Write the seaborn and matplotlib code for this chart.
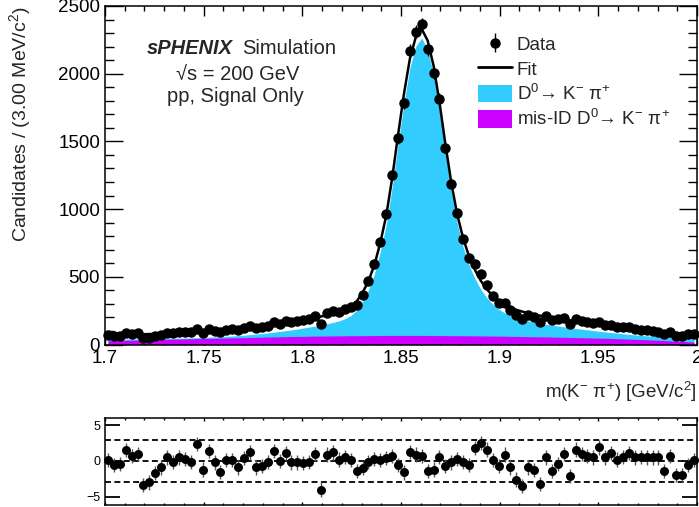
import numpy as np
import matplotlib
matplotlib.use("Agg")
import matplotlib.pyplot as plt
import seaborn as sns
from matplotlib.patches import Patch
from matplotlib.lines import Line2D
from matplotlib.ticker import MultipleLocator, FixedLocator

# 100 bins of 3 MeV between 1.7 and 2.0 GeV/c^2
BIN_LO = 1.7
BIN_W = 0.003
N_BINS = 100

# candidates per bin
counts = [68, 64, 66, 83, 79, 83, 46, 51, 63, 73,
          88, 84, 92, 92, 90, 117, 85, 113, 100, 90,
          110, 113, 106, 124, 138, 120, 127, 140, 164, 153,
          174, 165, 172, 178, 189, 212, 149, 229, 244, 242,
          264, 280, 294, 362, 466, 593, 754, 962, 1250, 1523,
          1781, 2170, 2310, 2364, 2181, 2007, 1816, 1453, 1187, 969,
          782, 636, 592, 524, 439, 361, 310, 310, 258, 215,
          188, 218, 203, 166, 212, 179, 185, 198, 149, 190,
          176, 166, 157, 168, 145, 145, 130, 128, 127, 114,
          110, 104, 100, 96, 75, 92, 66, 65, 77, 81]

# total fit at the bin centres
fit_total = [68, 69, 70, 71, 73, 74, 76, 77, 79, 81,
             83, 85, 87, 89, 91, 94, 96, 99, 102, 105,
             108, 112, 116, 120, 125, 130, 135, 141, 147, 153,
             160, 167, 174, 182, 190, 198, 207, 216, 226, 238,
             254, 278, 318, 382, 468, 586, 750, 950, 1225, 1545,
             1850, 2110, 2270, 2330, 2245, 2060, 1790, 1480, 1195, 960,
             785, 650, 550, 470, 408, 360, 323, 295, 273, 256,
             243, 232, 222, 213, 205, 198, 191, 184, 177, 170,
             163, 157, 151, 145, 139, 133, 127, 121, 115, 109,
             104, 99, 95, 91, 88, 86, 84, 83, 82, 81]

# mis-ID component of the fit
fit_misid = [28, 29, 30, 31, 32, 33, 34, 35, 36, 37,
             38, 39, 40, 41, 42, 43, 44, 45, 46, 47,
             48, 49, 50, 51, 52, 53, 54, 55, 56, 57,
             58, 59, 60, 60, 61, 62, 62, 63, 63, 64,
             64, 65, 65, 65, 66, 66, 66, 67, 67, 67,
             67, 67, 67, 67, 67, 66, 66, 66, 65, 65,
             65, 64, 64, 63, 63, 62, 62, 61, 60, 60,
             59, 58, 57, 57, 56, 55, 54, 53, 52, 51,
             50, 49, 48, 47, 46, 45, 43, 42, 40, 38,
             37, 35, 33, 31, 29, 27, 25, 23, 20, 18]

# pulls shown in the lower panel
pulls = [0.1, -0.6, -0.4, 1.5, 0.7, 1.0, -3.4, -3.0, -1.7, -0.9,
         0.5, -0.1, 0.5, 0.3, -0.1, 2.4, -1.2, 1.4, -0.2, -1.5,
         0.1, 0.1, -0.9, 0.4, 1.2, -0.9, -0.7, -0.1, 1.4, 0.0,
         1.1, -0.2, -0.2, -0.3, -0.1, 1.0, -4.0, 0.9, 1.2, 0.2,
         0.6, 0.1, -1.4, -1.0, -0.1, 0.3, 0.1, 0.4, 0.7, -0.6,
         -1.6, 1.3, 0.9, 0.7, -1.4, -1.2, 0.6, -0.7, -0.2, 0.3,
         -0.1, -0.6, 1.8, 2.5, 1.6, 0.1, -0.7, 0.9, -0.9, -2.6,
         -3.5, -0.9, -1.3, -3.2, 0.5, -1.4, -0.4, 1.0, -2.1, 1.6,
         1.0, 0.7, 0.5, 1.9, 0.5, 1.1, 0.2, 0.6, 1.1, 0.5,
         0.6, 0.5, 0.5, 0.5, -1.4, 0.7, -2.0, -2.0, -0.6, 0.1]

xtick_vals = [1.7, 1.75, 1.8, 1.85, 1.9, 1.95, 2.0]
xtick_labels = ["1.7", "1.75", "1.8", "1.85", "1.9", "1.95", "2"]
ytick_vals = [0, 500, 1000, 1500, 2000, 2500]
pull_ticks = [-5, 0, 5]
pull_tick_labels = ["\u22125", "0", "5"]

CYAN = "#33CCFF"
MAGENTA = "#CC00FF"

mass = BIN_LO + BIN_W * (np.arange(N_BINS) + 0.5)
counts = np.array(counts, dtype=float)
fit_total = np.array(fit_total, dtype=float)
fit_misid = np.array(fit_misid, dtype=float)
fit_signal = fit_total - fit_misid

sns.set_theme(style="ticks", rc={"axes.edgecolor": "black", "xtick.color": "black",
                                 "ytick.color": "black", "axes.linewidth": 1.1})
plt.rcParams["font.family"] = ["Liberation Sans", "DejaVu Sans"]
plt.rcParams["mathtext.fontset"] = "custom"
plt.rcParams["mathtext.rm"] = "Liberation Sans"
plt.rcParams["mathtext.it"] = "Liberation Sans:italic"
plt.rcParams["mathtext.bf"] = "Liberation Sans:bold"

fig = plt.figure(figsize=(6.99, 5.07), dpi=100)
ax = fig.add_axes([0.1502, 0.3205, 0.8469, 0.6677])
ax2 = fig.add_axes([0.1502, 0.0039, 0.8469, 0.1716])

# --- main panel
ax.fill_between(mass, 0, fit_signal, color=CYAN, lw=0, zorder=1)
ax.fill_between(mass, 0, fit_misid, color=MAGENTA, lw=0, zorder=2)
sns.lineplot(x=mass, y=fit_total, ax=ax, color="black", lw=1.8, estimator=None, zorder=3)
h_data = ax.errorbar(mass, counts, yerr=np.sqrt(counts), fmt="o", ms=6.5, color="black",
                     elinewidth=1, capsize=0, zorder=4, clip_on=False)

ax.set_xlim(1.7, 2.0)
ax.set_ylim(0, 2500)
ax.set_xticks(xtick_vals)
ax.set_xticklabels(xtick_labels)
ax.set_yticks(ytick_vals)
ax.xaxis.set_minor_locator(MultipleLocator(0.01))
ax.yaxis.set_minor_locator(MultipleLocator(100))
ax.tick_params(which="both", direction="in", top=True, right=True, labelsize=13.5)
ax.tick_params(axis="y", which="major", length=13, width=1, pad=3.5)
ax.tick_params(axis="y", which="minor", length=6.5, width=1)
ax.tick_params(axis="x", which="major", length=7.2, width=1, pad=4)
ax.tick_params(axis="x", which="minor", length=3.6, width=1)
ax.set_xlabel("")
ax.set_ylabel("Candidates / (3.00 MeV/c$^{2}$)", loc="top", fontsize=14)
ax.yaxis.set_label_coords(-0.1216, 1.0)

fig.text(0.997, 1 - 392 / 507, r"m(K$^{-}$ π$^{+}$) [GeV/c$^{2}$]", ha="right", va="center",
         fontsize=13.5)

ax.text(0.2162, 0.873, "sPHENIX", transform=ax.transAxes, ha="right", va="center",
        fontsize=14.5, fontweight="bold", fontstyle="italic")
ax.text(0.2314, 0.873, "Simulation", transform=ax.transAxes, ha="left", va="center", fontsize=14.5)
ax.text(0.2247, 0.799, "√s = 200 GeV", transform=ax.transAxes, ha="center", va="center", fontsize=14.5)
ax.text(0.2196, 0.733, "pp, Signal Only", transform=ax.transAxes, ha="center", va="center", fontsize=14.5)

h_fit = Line2D([], [], color="black", lw=2)
h_sig = Patch(facecolor=CYAN, edgecolor="none")
h_mis = Patch(facecolor=MAGENTA, edgecolor="none")
ax.legend([h_data, h_fit, h_sig, h_mis],
          ["Data", "Fit", r"D$^{0}$→ K$^{-}$ π$^{+}$", r"mis-ID D$^{0}$→ K$^{-}$ π$^{+}$"],
          loc="upper left", bbox_to_anchor=(0.630, 0.914), frameon=False, fontsize=13.5,
          handlelength=1.8, handleheight=1.05, handletextpad=0.27, labelspacing=0.28,
          borderpad=0, borderaxespad=0)

# --- pull panel
for yv in (3, 0, -3):
    ax2.axhline(yv, color="black", lw=1.3, ls=(0, (3.3, 1.9)), zorder=1)
ax2.errorbar(mass, pulls, yerr=1, fmt="none", ecolor="#555555", elinewidth=1, capsize=0, zorder=2)
sns.scatterplot(x=mass, y=pulls, ax=ax2, color="black", s=42, linewidth=0, zorder=3, clip_on=False)

ax2.set_xlim(1.7, 2.0)
ax2.set_ylim(-6.15, 6.0)
ax2.yaxis.set_major_locator(FixedLocator(pull_ticks))
ax2.set_yticklabels(pull_tick_labels)
ax2.xaxis.set_major_locator(MultipleLocator(0.05))
ax2.xaxis.set_minor_locator(MultipleLocator(0.01))
ax2.tick_params(which="both", direction="in", top=True, right=True, labelbottom=False)
ax2.tick_params(axis="y", which="major", length=11, width=1.3, labelsize=9, pad=3.5)
ax2.tick_params(axis="x", which="major", length=2.2, width=1)
ax2.tick_params(axis="x", which="minor", length=1.2, width=1)
ax2.set_xlabel("")
ax2.set_ylabel("")

fig.savefig("out.png", dpi=100)
